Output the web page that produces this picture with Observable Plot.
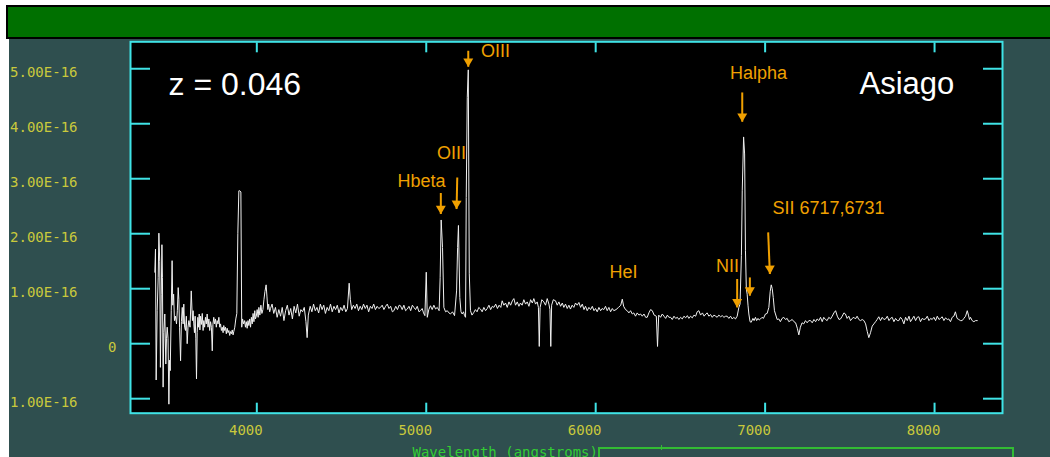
<!DOCTYPE html>
<html><head><meta charset="utf-8">
<script src="https://cdn.jsdelivr.net/npm/d3@7"></script>
<script src="https://cdn.jsdelivr.net/npm/@observablehq/plot@0.6"></script>
<style>
html,body{margin:0;padding:0;background:#fff;width:1050px;height:457px;overflow:hidden;position:relative}
#bar{position:absolute;left:6px;top:5px;width:1100px;height:30px;background:#007000;border:2px solid #000}
#panel{position:absolute;left:9px;top:39px;width:1041px;height:418px;background:#2f4f4f;overflow:hidden}
#panel svg{overflow:hidden;display:block}
#box{position:absolute;left:598px;top:447px;width:412px;height:40px;border:2px solid #33bb33}
#boxtick{position:absolute;left:661px;top:445px;width:1px;height:5px;background:#33bb33}
</style></head>
<body>
<div id="bar"></div>
<div id="panel"></div>
<div id="box"></div>
<div id="boxtick"></div>
<script>
// Spectrum: [wavelength (Å), flux (units of 1e-16)]
const blueSpectrum = [
[3398,1.30],[3402,1.72],[3406,-0.66],[3412,0.60],[3418,1.20],[3422,2.01],[3427,1.50],[3431,-0.43],[3436,0.90],[3440,1.80],
[3443,1.20],[3447,-0.79],[3451,0.20],[3457,0.54],[3463,-0.37],[3467,0.10],[3471,0.30],[3476,0.10],[3481,-1.10],[3485,-0.30],
[3489,-0.49],[3495,0.60],[3500,1.51],[3504,0.70],[3509,0.90],[3514,0.42],[3520,0.50],[3526,0.36],[3531,0.60],[3536,1.02],
[3540,0.80],[3544,0.30],[3550,-0.31],[3555,0.40],[3560,0.66],[3565,0.36],[3569,0.72],[3574,0.30],[3579,0.24],[3584,0.50],
[3589,0.00],[3594,0.30],[3599,0.42],[3606,0.30],[3613,0.96],[3620,0.42],[3624,0.60],[3628,0.36],[3632,0.20],[3636,0.50],
[3640,0.10],[3644,-0.64],[3648,0.20],[3652,0.48],[3656,0.30],[3660,0.54],[3664,0.25],[3668,0.50],[3673,0.35],[3678,0.55],
[3683,0.24],[3687,0.42],[3692,0.30],[3697,0.48],[3702,0.36],[3707,0.54],[3712,0.30],[3717,0.45],[3722,0.24],[3727,0.40],
[3732,0.30],[3737,-0.13],[3741,0.35],[3746,0.48],[3751,0.36],[3756,0.45],[3761,0.30],[3766,0.42],[3771,0.36],[3776,0.48],
[3781,0.30],[3786,0.36],[3791,0.24],[3796,0.30],[3801,0.20],[3805,0.33],[3810,0.24],[3815,0.30],[3820,0.18],[3825,0.28],
[3830,0.20],[3835,0.24],[3840,0.15],[3845,0.22],[3850,0.18],[3855,0.25],[3860,0.16],[3864,0.22],[3870,0.30],[3876,0.45],
[3882,0.55],[3888,2.00],[3894,2.78],[3900,2.78],[3906,2.76],[3911,0.30],[3916,0.45],[3922,0.36],[3928,0.42],[3933,0.30],
[3938,0.40],[3943,0.28],[3948,0.42],[3953,0.33],[3958,0.45],[3963,0.30],[3968,0.48],[3973,0.36],[3978,0.55],[3983,0.40],
[3988,0.60],[3992,0.45],[3997,0.50],[4002,0.62],[4008,0.48],[4012,0.66],[4018,0.52],[4024,0.70],[4030,0.55],[4036,0.62],
[4042,0.80],[4048,0.95],[4055,1.07],[4060,0.85],[4065,0.62],[4070,0.72],[4076,0.58]
];
const greenSpectrum = [
[4081,0.64],[4090,0.72],[4100,0.55],[4110,0.66],[4120,0.48],[4130,0.62],[4140,0.50],[4150,0.66],[4160,0.42],[4170,0.60],
[4180,0.70],[4190,0.52],[4200,0.64],[4210,0.45],[4220,0.68],[4230,0.56],[4240,0.72],[4250,0.50],[4260,0.62],[4270,0.58],
[4280,0.66],[4290,0.40],[4297,0.11],[4304,0.52],[4315,0.68],[4325,0.58],[4335,0.72],[4345,0.60],[4355,0.66],[4365,0.56],
[4375,0.72],[4385,0.62],[4395,0.70],[4405,0.55],[4415,0.66],[4425,0.60],[4435,0.72],[4445,0.58],[4455,0.68],[4465,0.62],
[4475,0.70],[4485,0.56],[4495,0.66],[4505,0.60],[4515,0.70],[4525,0.58],[4535,0.64],[4545,1.10],[4552,0.80],[4560,0.62],
[4570,0.70],[4580,0.64],[4590,0.72],[4600,0.60],[4610,0.68],[4620,0.62],[4630,0.72],[4640,0.64],[4650,0.70],[4660,0.58],
[4670,0.68],[4680,0.64],[4690,0.72],[4700,0.62],[4710,0.68],[4720,0.64],[4730,0.66],[4740,0.70],[4750,0.62],[4760,0.68],
[4770,0.72],[4780,0.64],[4790,0.68],[4800,0.58],[4809,0.60],[4820,0.68],[4830,0.62],[4840,0.70],[4848,0.69],[4858,0.62],
[4868,0.70],[4878,0.60],[4888,0.63],[4898,0.68],[4908,0.60],[4918,0.70],[4927,0.66],[4937,0.62],[4947,0.68],[4957,0.58],
[4966,0.60],[4976,0.64],[4984,0.56],[4992,0.51],[5000,1.30],[5006,0.48],[5015,0.62],[5025,0.69],[5035,0.62],[5045,0.70],
[5055,0.63],[5065,0.66],[5076,0.60],[5082,1.20],[5088,2.25],[5096,1.75],[5104,0.66],[5114,0.58],[5124,0.60],[5134,0.56],
[5143,0.54],[5155,0.58],[5167,0.51],[5179,0.96],[5185,1.75],[5190,2.15],[5198,0.84],[5205,0.58],[5212,0.54],[5220,0.58],
[5226,0.51],[5232,0.48],[5236,2.66],[5242,4.48],[5248,4.98],[5254,1.27],[5261,0.60],[5270,0.52],[5281,0.57],[5290,0.62],
[5300,0.58],[5310,0.66],[5320,0.63],[5330,0.58],[5340,0.66],[5350,0.60],[5360,0.64],[5370,0.70],[5380,0.62],[5390,0.68],
[5399,0.66],[5410,0.72],[5420,0.64],[5430,0.70],[5440,0.66],[5448,0.78],[5458,0.70],[5468,0.74],[5478,0.66],[5488,0.76],
[5498,0.70],[5508,0.78],[5517,0.82],[5527,0.70],[5537,0.76],[5547,0.68],[5556,0.74],[5566,0.70],[5576,0.80],[5586,0.72],
[5596,0.76],[5606,0.68],[5616,0.80],[5626,0.74],[5635,0.82],[5645,0.72],[5655,0.76],[5662,0.66],[5667,-0.05],[5672,0.66],
[5682,0.80],[5694,0.76],[5704,0.70],[5714,0.82],[5724,0.72],[5730,0.62],[5735,-0.05],[5740,0.70],[5750,0.80],[5763,0.78],
[5773,0.70],[5783,0.76],[5793,0.68],[5803,0.74],[5812,0.66],[5822,0.72],[5832,0.64],[5842,0.70],[5851,0.63],[5861,0.70],
[5871,0.66],[5881,0.74],[5891,0.70],[5901,0.75],[5911,0.66],[5921,0.72],[5931,0.62],[5940,0.68],[5950,0.60],[5960,0.66],
[5970,0.62],[5980,0.68],[5990,0.60],[5999,0.64],[6009,0.58],[6019,0.66],[6029,0.60],[6038,0.64],[6048,0.62],[6058,0.68],
[6068,0.60],[6078,0.66],[6088,0.58],[6098,0.64],[6107,0.60],[6120,0.62],[6135,0.66],[6148,0.70],[6157,0.81],[6165,0.68]
];
const redSpectrum = [
[6176,0.62],[6186,0.60],[6196,0.56],[6206,0.60],[6216,0.54],[6225,0.56],[6235,0.50],[6245,0.56],[6255,0.52],[6265,0.54],
[6275,0.50],[6285,0.54],[6295,0.48],[6304,0.48],[6314,0.56],[6324,0.62],[6334,0.60],[6345,0.52],[6358,0.50],[6365,-0.05],
[6372,0.52],[6383,0.48],[6393,0.54],[6403,0.50],[6413,0.46],[6423,0.52],[6432,0.48],[6442,0.48],[6452,0.44],[6462,0.50],
[6472,0.46],[6482,0.48],[6491,0.44],[6501,0.48],[6511,0.45],[6521,0.50],[6531,0.47],[6541,0.51],[6550,0.46],[6560,0.50],
[6570,0.47],[6580,0.52],[6590,0.50],[6599,0.58],[6609,0.60],[6619,0.52],[6630,0.56],[6640,0.50],[6650,0.54],[6658,0.56],
[6668,0.50],[6678,0.53],[6688,0.48],[6698,0.52],[6708,0.50],[6717,0.48],[6727,0.52],[6737,0.49],[6747,0.51],[6757,0.48],
[6767,0.50],[6776,0.50],[6786,0.46],[6796,0.50],[6806,0.45],[6815,0.48],[6825,0.45],[6835,0.50],[6845,0.66],[6852,0.72],
[6860,1.60],[6865,2.78],[6873,3.76],[6879,3.45],[6884,1.69],[6889,1.00],[6894,0.90],[6899,0.70],[6904,0.54],[6911,0.40],
[6918,0.39],[6928,0.46],[6935,0.42],[6943,0.48],[6950,0.42],[6958,0.46],[6965,0.43],[6973,0.45],[6982,0.48],[6990,0.46],
[7002,0.54],[7012,0.55],[7022,0.66],[7030,0.95],[7036,1.07],[7042,1.00],[7048,0.84],[7055,0.60],[7061,0.54],[7071,0.44],
[7081,0.45],[7090,0.40],[7100,0.46],[7110,0.48],[7120,0.44],[7130,0.46],[7140,0.40],[7150,0.42],[7160,0.44],[7170,0.40],
[7180,0.38],[7190,0.28],[7199,0.16],[7208,0.30],[7218,0.38],[7228,0.36],[7238,0.42],[7248,0.38],[7258,0.42],[7268,0.42],
[7278,0.38],[7288,0.44],[7298,0.40],[7307,0.45],[7317,0.42],[7327,0.48],[7337,0.40],[7346,0.48],[7356,0.44],[7366,0.42],
[7376,0.48],[7386,0.45],[7396,0.50],[7406,0.56],[7416,0.60],[7426,0.50],[7436,0.44],[7445,0.45],[7455,0.50],[7465,0.56],
[7474,0.54],[7484,0.46],[7494,0.50],[7504,0.42],[7514,0.46],[7524,0.48],[7533,0.45],[7543,0.50],[7553,0.44],[7563,0.42],
[7573,0.44],[7583,0.42],[7593,0.36],[7603,0.22],[7612,0.11],[7622,0.20],[7632,0.32],[7642,0.36],[7652,0.40],[7661,0.44],
[7671,0.49],[7681,0.42],[7691,0.48],[7701,0.44],[7711,0.45],[7721,0.50],[7731,0.42],[7740,0.46],[7750,0.48],[7760,0.40],
[7770,0.46],[7780,0.42],[7789,0.42],[7799,0.48],[7809,0.44],[7819,0.36],[7829,0.48],[7839,0.42],[7849,0.50],[7858,0.40],
[7868,0.45],[7878,0.50],[7888,0.42],[7898,0.48],[7907,0.49],[7917,0.40],[7927,0.46],[7937,0.44],[7947,0.45],[7957,0.50],
[7967,0.42],[7977,0.46],[7986,0.44],[7996,0.48],[8006,0.42],[8016,0.50],[8026,0.44],[8035,0.46],[8045,0.49],[8055,0.42],
[8065,0.47],[8075,0.44],[8084,0.45],[8094,0.40],[8104,0.48],[8114,0.50],[8123,0.58],[8133,0.46],[8143,0.44],[8153,0.42],
[8163,0.42],[8173,0.46],[8183,0.50],[8193,0.60],[8200,0.52],[8206,0.44],[8212,0.48],[8222,0.42],[8232,0.40],[8242,0.42],
[8252,0.42]
];

// Axis ticks
const xTicks = [4000, 5000, 6000, 7000, 8000];
const yTicks = [-1, 0, 1, 2, 3, 4, 5];
const yTicksSci = [5, 4, 3, 2, 1, -1];

// Line identifications
const lineNames = ["OIII", "OIII", "Hbeta", "HeI", "Halpha", "NII", "SII 6717,6731"];
const lineLabelWave = [5409, 5149, 4972, 6164, 6961, 6778, 7374];
const lineLabelFlux = [5.205, 3.358, 2.855, 1.195, 4.813, 1.296, 2.358];
// Arrows: start/end
const arrowWaveStart = [5248, 5183, 5086, 6865, 6835, 6910, 7018];
const arrowWaveEnd   = [5248, 5179, 5086, 6865, 6835, 6910, 7028];
const arrowFluxStart = [5.327, 3.024, 2.740, 4.569, 1.176, 1.205, 2.024];
const arrowFluxEnd   = [5.036, 2.449, 2.358, 4.036, 0.660, 0.873, 1.267];
const arrowRotate    = [180, 181, 180, 180, 180, 180, 178];

// Corner labels
const cornerText = ["z = 0.046", "Asiago"];
const cornerWave = [3479, 7557];
const cornerFlux = [4.527, 4.540];

const spectrum = [...blueSpectrum, ...greenSpectrum, ...redSpectrum].map(([w, f]) => ({w, f}));
const labels = lineNames.map((t, i) => ({t, x: lineLabelWave[i], y: lineLabelFlux[i]}));
const arrows = arrowWaveStart.map((x1, i) => ({x1, x2: arrowWaveEnd[i], y1: arrowFluxStart[i], y2: arrowFluxEnd[i], r: arrowRotate[i]}));
const corners = cornerText.map((t, i) => ({t, x: cornerWave[i], y: cornerFlux[i]}));

const cyan = "#3fe3e6";
const yellow = "#c9c93c";
const orange = "#f0a000";
const mono = "'DejaVu Sans Mono', monospace";
const sans = "'Liberation Sans', Arial, sans-serif";

const chart = Plot.plot({
  width: 1041,
  height: 418,
  marginLeft: 121,
  marginRight: 48,
  marginTop: 2.3,
  marginBottom: 44.3,
  x: {domain: [3254.5, 8401]},
  y: {domain: [-1.264, 5.49]},
  style: {background: "#2f4f4f", overflow: "hidden", fontFamily: sans},
  marks: [
    Plot.frame({fill: "black"}),
    Plot.line(spectrum, {x: "w", y: "f", stroke: "#f0f0f0", strokeWidth: 1}),
    // ticks
    Plot.axisY({anchor: "left", ticks: yTicks, tickSize: 20, dx: 20, stroke: cyan, strokeWidth: 2, fill: "none", label: null}),
    Plot.axisY({anchor: "right", ticks: yTicks, tickSize: 20, dx: -20, stroke: cyan, strokeWidth: 2, fill: "none", label: null}),
    Plot.axisX({anchor: "bottom", ticks: xTicks, tickSize: 10, dy: -10, stroke: cyan, strokeWidth: 2, fill: "none", label: null}),
    Plot.axisX({anchor: "top", ticks: xTicks, tickSize: 10, dy: 10, stroke: cyan, strokeWidth: 2, fill: "none", label: null}),
    // tick labels
    Plot.axisY({anchor: "left", ticks: yTicksSci, tickSize: 0, tickPadding: 0, dx: -53, dy: 3.5,
      tickFormat: d => d.toFixed(2) + "E-16", fill: yellow, fontFamily: mono, fontSize: 14, label: null}),
    Plot.axisY({anchor: "left", ticks: [0], tickSize: 0, tickPadding: 0, dx: -14, dy: 3.5,
      tickFormat: () => "0", fill: yellow, fontFamily: mono, fontSize: 14, label: null}),
    Plot.axisX({anchor: "bottom", ticks: xTicks, tickSize: 0, tickPadding: 0, dx: -11, dy: 12,
      tickFormat: d => String(d), fill: yellow, fontFamily: mono, fontSize: 14, label: null}),
    Plot.text(["Wavelength (angstroms)"], {frameAnchor: "bottom-left", dx: 282, dy: 33.9, textAnchor: "start", lineAnchor: "top",
      fill: "#33cc33", fontFamily: mono, fontSize: 14}),
    // annotations
    Plot.link(arrows, {x1: "x1", y1: "y1", x2: "x2", y2: "y2", stroke: orange, strokeWidth: 2}),
    Plot.dot(arrows, {x: "x2", y: "y2", symbol: "triangle", r: 3.7, rotate: "r", dy: -5.5, fill: orange, stroke: null}),
    Plot.text(labels, {x: "x", y: "y", text: "t", fill: orange, fontSize: 18, fontFamily: sans, lineAnchor: "bottom", textAnchor: "middle"}),
    Plot.text(corners, {x: "x", y: "y", text: "t", fill: "white", fontSize: d => d.t === "Asiago" ? 31 : 32, fontFamily: sans, lineAnchor: "bottom", textAnchor: "start"}),
    Plot.frame({stroke: cyan, strokeWidth: 2})
  ]
});
document.getElementById("panel").appendChild(chart);
</script>
</body></html>
